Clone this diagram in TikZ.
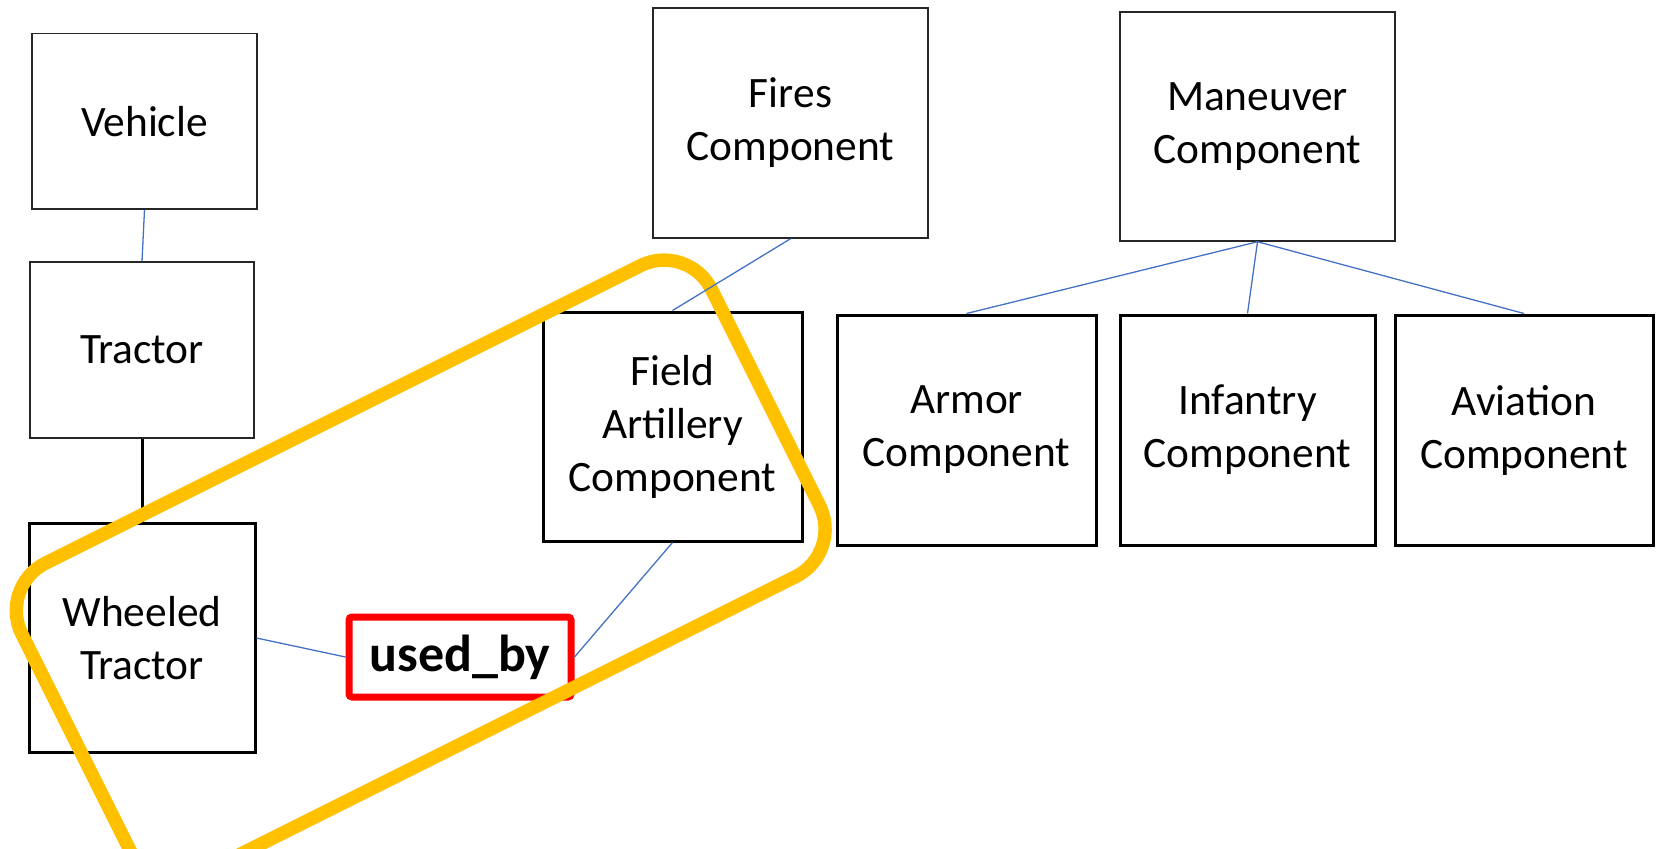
\documentclass[tikz,border=0pt]{standalone}
\usepackage{fontspec}
\setmainfont{Carlito}
\definecolor{linkblue}{HTML}{4472C4}
\definecolor{ringgold}{HTML}{FFC000}
\definecolor{relred}{HTML}{FF0000}
\begin{document}
\begin{tikzpicture}[x=0.5pt,y=-0.5pt,
  lbl/.style={font=\fontsize{21.7}{26.5}\selectfont, align=center, inner sep=0pt},
  thinbox/.style={lbl, draw=black!85, line width=0.75pt, fill=white},
  thickbox/.style={lbl, draw=black, line width=1.5pt, fill=white},
  relbox/.style={draw=relred, line width=3.5pt, rounded corners=1.5pt, fill=white,
    inner sep=0pt, font=\fontsize{26}{31}\selectfont\bfseries},
  link/.style={draw=linkblue, line width=0.65pt},
  heavylink/.style={draw=black, line width=1.5pt},
  ringline/.style={draw=ringgold, line width=6.7pt, rounded corners=26.5pt},
]
\useasboundingbox (0,0) rectangle (1659,848);
\clip (0,0) rectangle (1659,848);

% vehicle hierarchy
\node[thinbox, minimum width=112.5pt, minimum height=87.75pt] (veh) at (144.5,121.3) {Vehicle};
\node[thinbox, minimum width=112pt, minimum height=88pt] (trac) at (142,350) {Tractor};
\node[thickbox, minimum width=113pt, minimum height=114.75pt] (wtrac) at (142,638) {Wheeled\\Tractor};

% fires branch
\node[thinbox, minimum width=137.5pt, minimum height=115pt] (fires) at (790.5,123) {Fires\\Component};
\node[thickbox, minimum width=129.5pt, minimum height=114.5pt] (fa) at (672.5,426.5) {Field\\Artillery\\Component};

% maneuver branch
\node[thinbox, minimum width=137.5pt, minimum height=114.5pt] (man) at (1257.5,126.5) {Maneuver\\Component};
\node[thickbox, minimum width=129.5pt, minimum height=115pt] (arm) at (966.5,430) {Armor\\Component};
\node[thickbox, minimum width=127.5pt, minimum height=115pt] (inf) at (1247.5,430) {Infantry\\Component};
\node[thickbox, minimum width=129pt, minimum height=115pt] (avi) at (1524,430) {Aviation\\Component};

% relation
\node[relbox, minimum width=111pt, minimum height=40pt] (used) at (460,657) {used\_by};

\draw[heavylink] (trac.south) -- (wtrac.north);

% highlighted relation
\draw[ringline] (343,414.4) -- (687.8,242.0) -- (843.2,552.8) -- (153.6,897.6) -- (-1.8,586.8) -- cycle;

% connectors
\draw[link] (veh.south) -- (trac.north);
\draw[link] (wtrac.east) -- (used.west);
\draw[link] (used.east) -- (fa.south);
\draw[link] (fires.south) -- (fa.north);
\draw[link] (man.south) -- (arm.north);
\draw[link] (man.south) -- (inf.north);
\draw[link] (man.south) -- (avi.north);
\end{tikzpicture}
\end{document}
